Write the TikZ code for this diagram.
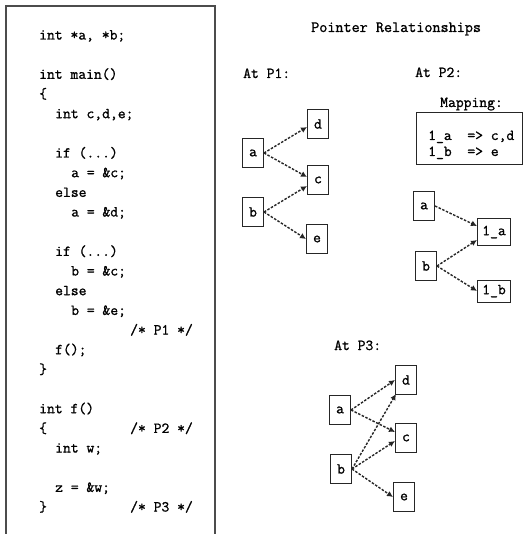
\documentclass[tikz,border=0pt]{standalone}
\usepackage{fontspec}
\usetikzlibrary{arrows.meta}
\newfontfamily\monobold[FakeBold=1.2]{Latin Modern Mono}
\newcommand\codefont{\monobold\fontsize{15.2}{18}\selectfont}
\newcommand\titlefont{\monobold\fontsize{15.7}{18}\selectfont}
\begin{document}
\begin{tikzpicture}[x=1pt,y=-1pt,
  code/.style={anchor=base west, inner sep=0pt, font=\codefont},
  var/.style={draw=black!85, line width=1pt, minimum width=21pt,
    minimum height=29pt, inner sep=0pt, font=\codefont},
  ptr/.style={-{Latex[length=6pt,width=6pt]}, dash pattern=on 2.5pt off 1.5pt,
    line width=1.4pt, black!85}]
\useasboundingbox (0,0) rectangle (523,534);

% frame round the source listing (open at the bottom)
\draw[black!70, line width=1.3pt] (6,534) -- (6,6) -- (215,6) -- (215,534);

% source listing
\node[code] (l0)  at (39,39.5)  {int *a, *b;};
\node[code] (l2)  at (39,78.8)  {int main()};
\node[code] (l3)  at (39,98.5)  {\{};
\node[code] (l4)  at (55,118.2) {int c,d,e;};
\node[code] (l6)  at (55,157.5) {if (...)};
\node[code] (l7)  at (71,177.2) {a = \&c;};
\node[code] (l8)  at (55,196.9) {else};
\node[code] (l9)  at (71,216.5) {a = \&d;};
\node[code] (l11) at (55,255.9) {if (...)};
\node[code] (l12) at (71,275.5) {b = \&c;};
\node[code] (l13) at (55,295.2) {else};
\node[code] (l14) at (71,314.9) {b = \&e;};
\node[code] (l15) at (130,334.5) {/* P1 */};
\node[code] (l16) at (55,354.2) {f();};
\node[code] (l17) at (39,373.9) {\}};
\node[code] (l19) at (39,413.2) {int f()};
\node[code] (l20) at (39,432.9) {\{};
\node[code] (c20) at (130,432.9) {/* P2 */};
\node[code] (l21) at (55,452.5) {int w;};
\node[code] (l23) at (55,491.9) {z = \&w;};
\node[code] (l24) at (39,511.5) {\}};
\node[code] (c24) at (130,511.5) {/* P3 */};

% headings
\node[code, font=\titlefont] (title) at (311,32) {Pointer Relationships};
\node[code] (h1) at (243,78) {At P1:};
\node[code] (h2) at (415,77) {At P2:};
\node[code] (h3) at (334,350) {At P3:};
\node[code] (hm) at (440,107) {Mapping:};

% mapping table
\draw[black!85, line width=1pt] (416,113) rectangle (522,165);
\node[code] (m1) at (428,140) {1\_a\ \ => c,d};
\node[code] (m2) at (428,156) {1\_b\ \ => e};

% at P1
\node[var] (a1) at (253,153) {a};
\node[var] (d1) at (318,124) {d};
\node[var] (c1) at (318,180) {c};
\node[var] (b1) at (253,212) {b};
\node[var] (e1) at (317,239) {e};
\draw[ptr] (a1.east) -- ([yshift=-3pt]d1.west);
\draw[ptr] (a1.east) -- ([yshift=3pt]c1.west);
\draw[ptr] (b1.east) -- ([yshift=-6pt]c1.west);
\draw[ptr] (b1.east) -- (e1.west);

% at P2
\node[var] (a2) at (424,206) {a};
\node[var, minimum width=33pt, minimum height=27pt] (la) at (494,232) {1\_a};
\node[var] (b2) at (426,266) {b};
\node[var, minimum width=33pt, minimum height=22pt] (lb) at (494,291) {1\_b};
\draw[ptr] (a2.east) -- ([yshift=6pt]la.west);
\draw[ptr] (b2.east) -- ([yshift=-8pt]la.west);
\draw[ptr] (b2.east) -- (lb.west);

% at P3
\node[var] (a3) at (340,410) {a};
\node[var] (d3) at (406,380) {d};
\node[var] (c3) at (406,438) {c};
\node[var] (b3) at (341,469) {b};
\node[var] (e3) at (404,497) {e};
\draw[ptr] (a3.east) -- (d3.west);
\draw[ptr] (a3.east) -- ([yshift=6pt]c3.west);
\draw[ptr] (b3.east) -- ([shift={(1pt,1pt)}]d3.south west);
\draw[ptr] (b3.east) -- ([yshift=-3pt]c3.west);
\draw[ptr] (b3.east) -- (e3.west);
\end{tikzpicture}
\end{document}
